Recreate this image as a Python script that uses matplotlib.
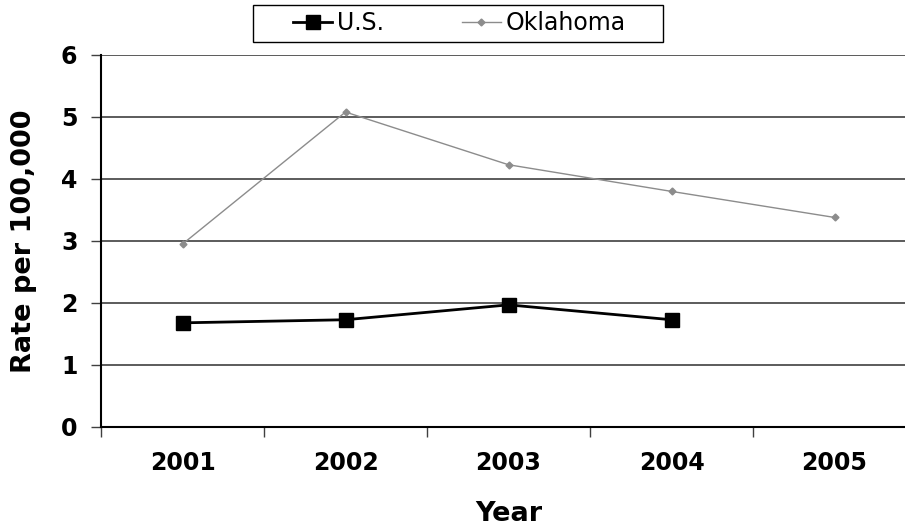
import matplotlib
matplotlib.use("Agg")
import matplotlib.pyplot as plt
from matplotlib.patches import Rectangle

years = ["2001", "2002", "2003", "2004", "2005"]
us = [1.68, 1.73, 1.97, 1.73]
oklahoma = [2.95, 5.08, 4.23, 3.80, 3.38]
yticks = [0, 1, 2, 3, 4, 5, 6]

W, H = 905, 529
fig = plt.figure(figsize=(W / 100, H / 100), dpi=100)
ax = fig.add_axes([101/W, (H-427)/H, 815/W, 372/H])

xpos = [i + 0.5 for i in range(len(years))]
ax.plot(xpos[:len(us)], us, color="black", lw=2, marker="s", ms=9.5, label="U.S.", zorder=3)
ax.plot(xpos, oklahoma, color="#8c8c8c", lw=1, marker="D", ms=3.5, label="Oklahoma", zorder=3)

ax.set_xlim(0, 5)
ax.set_ylim(0, 6)
ax.set_yticks(yticks)
ax.set_yticklabels([str(v) for v in yticks], fontsize=17, fontweight="bold")
for y in yticks[1:]:
    ax.axhline(y, color="#404040", lw=1.2, zorder=1)

ax.set_xticks(xpos)
ax.set_xticklabels(years, fontsize=17, fontweight="bold")
ax.set_xticks(range(0, 6), minor=True)
ax.tick_params(axis="x", which="major", length=0, pad=17)
ax.tick_params(axis="x", which="minor", length=7, width=1, direction="out", color="#404040")
ax.tick_params(axis="y", length=7, width=1, direction="out", pad=10, color="#404040")

for s in ["top", "right"]:
    ax.spines[s].set_visible(False)
ax.spines["left"].set_linewidth(1.5)
ax.spines["bottom"].set_linewidth(1.5)

ax.set_ylabel("Rate per 100,000", fontsize=19.5, fontweight="bold", labelpad=17)
ax.set_xlabel("Year", fontsize=19.5, fontweight="bold", labelpad=19)

leg = fig.legend(loc="center", bbox_to_anchor=(459.5/W, 1 - 23.5/H), ncol=2,
                 fontsize=17, frameon=False,
                 handlelength=1.65, columnspacing=3.3, borderpad=0.0, handletextpad=0.2)
fig.patches.append(Rectangle((253/W, 1 - 42/H), 410/W, 37/H, transform=fig.transFigure,
                             fill=False, edgecolor="black", lw=1.0))

fig.savefig("out.png", dpi=100)
